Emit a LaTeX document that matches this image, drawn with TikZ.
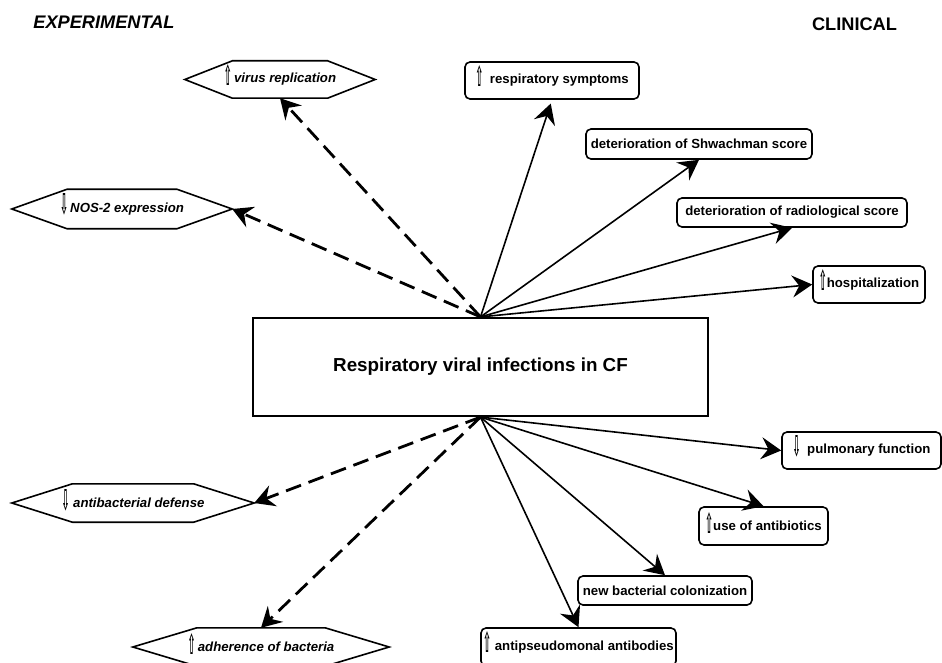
\documentclass[tikz,border=0pt]{standalone}
\usepackage{fontspec}
\setmainfont{Liberation Sans}
\newfontfamily\symfont{DejaVu Sans}
\usetikzlibrary{arrows.meta, calc}

% hollow up/down arrows used inside the labels
\newcommand{\incr}{\smash{\raisebox{-2.5pt}{\resizebox{8pt}{21pt}{\symfont ⇧}}}}
\newcommand{\decr}{\smash{\raisebox{-2.5pt}{\resizebox{8pt}{21pt}{\symfont ⇩}}}}

\begin{document}
\begin{tikzpicture}[
    x=1pt, y=-1pt,
    font=\fontsize{13.2}{15}\selectfont\bfseries,
    clin/.style={draw, rounded corners=5pt, line width=1.6pt, inner sep=2pt},
    expt/.style={inner sep=2pt, font=\fontsize{13.2}{15}\selectfont\bfseries\itshape},
    title/.style={font=\fontsize{18.2}{21}\selectfont\bfseries},
    ar/.style={-{Stealth[length=20pt, width=22pt, inset=7pt]}, line width=1.6pt},
    dar/.style={ar, line width=2.8pt, dash pattern=on 16pt off 8pt}
  ]
  \useasboundingbox (0,0) rectangle (942,663);

  % headings
  \node[title, font=\fontsize{18.2}{21}\selectfont\bfseries\itshape] (expttitle) at (104,22.5) {EXPERIMENTAL};
  \node[title] (clintitle) at (854.5,24) {CLINICAL};

  % central box
  \node[draw, line width=2.2pt, minimum width=455pt, minimum height=98pt,
        font=\fontsize{18.8}{22}\selectfont\bfseries] (main) at (480.5,367) {Respiratory viral infections in CF};

  % experimental findings (hexagons)
  \node[expt, minimum width=190pt, minimum height=37pt] (virus) at (280,79.5) {\incr\,virus replication};
  \node[expt, minimum width=220pt, minimum height=39pt] (nos) at (122,209) {\decr\,NOS-2 expression};
  \node[expt, minimum width=242pt, minimum height=38pt] (antib) at (133,503) {\decr\ antibacterial defense};
  \node[expt, minimum width=256pt, minimum height=38pt] (adher) at (261,647) {\incr\,adherence of bacteria};
  \foreach \n in {virus,nos,antib,adher}
    \draw[line width=1.6pt] (\n.west) -- ($(\n.north west)!.25!(\n.north east)$)
      -- ($(\n.north west)!.75!(\n.north east)$) -- (\n.east)
      -- ($(\n.south west)!.75!(\n.south east)$) -- ($(\n.south west)!.25!(\n.south east)$) -- cycle;

  % clinical findings
  \node[clin, minimum width=174pt, minimum height=37pt] (resp) at (552,80.5) {\incr\enspace respiratory symptoms};
  \node[clin, minimum width=226pt, minimum height=30pt] (shwach) at (699,144) {deterioration of Shwachman score};
  \node[clin, minimum width=230pt, minimum height=29pt] (radio) at (792,212.5) {deterioration of radiological score};
  \node[clin, minimum width=112pt, minimum height=37pt] (hosp) at (869,284.5) {\incr hospitalization};
  \node[clin, minimum width=159pt, minimum height=37pt] (pulm) at (861.5,450.5) {\decr\enspace pulmonary function};
  \node[clin, minimum width=129pt, minimum height=38pt] (antibio) at (763.5,526) {\incr use of antibiotics};
  \node[clin, minimum width=174pt, minimum height=29pt] (colon) at (665,590.5) {new bacterial colonization};
  \node[clin, minimum width=195pt, minimum height=38pt] (antips) at (578.5,647) {\incr\ antipseudomonal antibodies};

  % arrows
  \draw[ar, shorten >=4pt] (main.north) -- (resp.south);
  \draw[ar] (main.north) -- (shwach.south);
  \draw[ar] (main.north) -- (radio.south);
  \draw[ar] (main.north) -- (hosp.west);
  \draw[ar] (main.south) -- (pulm.west);
  \draw[ar] (main.south) -- (antibio.north);
  \draw[ar] (main.south) -- (colon.north);
  \draw[ar] (main.south) -- (antips.north);
  \draw[dar] (main.north) -- (virus.south);
  \draw[dar] (main.north) -- (nos.east);
  \draw[dar] (main.south) -- (antib.east);
  \draw[dar] (main.south) -- (adher.north);
\end{tikzpicture}
\end{document}
